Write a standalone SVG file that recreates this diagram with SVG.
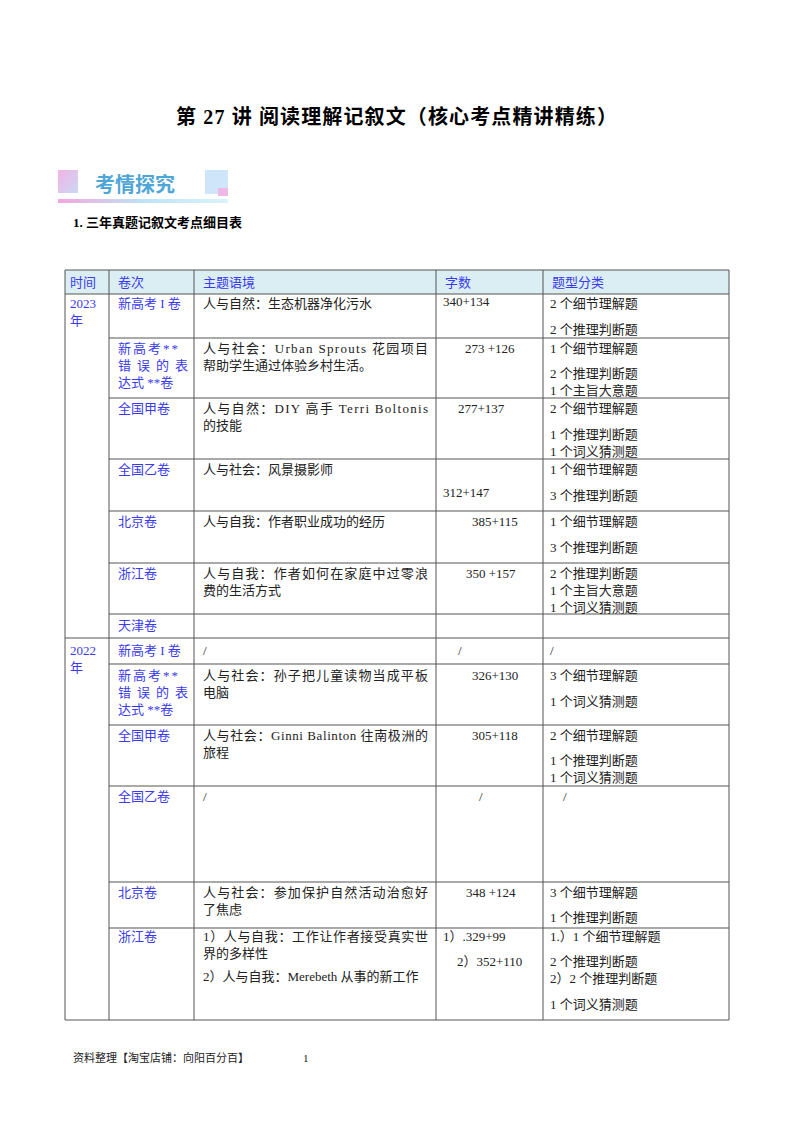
<svg xmlns="http://www.w3.org/2000/svg" width="800" height="1132" viewBox="0 0 800 1132">
<style>
text{font-family:"Liberation Serif","Noto Sans CJK SC",serif;font-size:13px;fill:#222}
.b{fill:#3a3af0}
.g line{stroke:#555;stroke-width:1}
.t{font-weight:bold;font-size:20px;fill:#000}
</style>
<defs>
<linearGradient id="ul" x1="0" x2="1"><stop offset="0" stop-color="#f3a6dc"/><stop offset="0.5" stop-color="#bfe3f7"/><stop offset="1" stop-color="#d9f3fb"/></linearGradient>
<linearGradient id="sq1" x1="0" y1="0" x2="1" y2="1"><stop offset="0" stop-color="#f3b4e3"/><stop offset="1" stop-color="#c9d8f5"/></linearGradient>
</defs>
<rect width="800" height="1132" fill="#fff"/>
<text x="176" y="124" textLength="441" class="t">第 27 讲 阅读理解记叙文（核心考点精讲精练）</text>
<g id="banner">
<rect x="58" y="170" width="20" height="23" fill="url(#sq1)"/>
<text x="95" y="192" style="font-family:'Noto Sans CJK SC',sans-serif;font-weight:bold;font-size:20px;fill:#4fa6d6">考情探究</text>
<rect x="205" y="170" width="23" height="24" fill="#cfe6fa"/>
<rect x="218" y="188" width="10" height="8" fill="#f0b8e6"/>
<rect x="58" y="199" width="170" height="4" fill="url(#ul)"/>
</g>
<text x="73" y="227" style="font-weight:bold;font-size:13px;fill:#000">1. 三年真题记叙文考点细目表</text>
<rect x="65" y="270" width="664" height="24" fill="#daeef3"/>
<g class="g">
<line x1="65" y1="270" x2="729" y2="270"/><line x1="65" y1="294" x2="729" y2="294"/>
<line x1="109" y1="338" x2="729" y2="338"/><line x1="109" y1="398" x2="729" y2="398"/>
<line x1="109" y1="459" x2="729" y2="459"/><line x1="109" y1="511" x2="729" y2="511"/>
<line x1="109" y1="563" x2="729" y2="563"/><line x1="109" y1="614" x2="729" y2="614"/>
<line x1="65" y1="638" x2="729" y2="638"/><line x1="109" y1="664" x2="729" y2="664"/>
<line x1="109" y1="725" x2="729" y2="725"/><line x1="109" y1="786" x2="729" y2="786"/>
<line x1="109" y1="882" x2="729" y2="882"/><line x1="109" y1="928" x2="729" y2="928"/>
<line x1="65" y1="1020" x2="729" y2="1020"/>
<line x1="65" y1="270" x2="65" y2="1020"/><line x1="109" y1="270" x2="109" y2="1020"/>
<line x1="194" y1="270" x2="194" y2="1020"/><line x1="436" y1="270" x2="436" y2="1020"/>
<line x1="543" y1="270" x2="543" y2="1020"/><line x1="729" y1="270" x2="729" y2="1020"/>
</g>
<g id="header" class="b">
<text x="70" y="287" class="b">时间</text><text x="118" y="287" class="b">卷次</text>
<text x="203" y="287" class="b">主题语境</text><text x="445" y="287" class="b">字数</text>
<text x="552" y="287" class="b">题型分类</text>
</g>
<g id="col1">
<text x="70" y="308" class="b">2023</text><text x="70" y="325" class="b">年</text>
<text x="70" y="655" class="b">2022</text><text x="70" y="672" class="b">年</text>
</g>
<g id="col2">
<text x="118" y="308" class="b">新高考 I 卷</text>
<text x="118" y="353" class="b" textLength="60">新高考**</text>
<text x="118" y="370" class="b" textLength="70">错误的表</text>
<text x="118" y="387" class="b">达式 **卷</text>
<text x="118" y="413" class="b">全国甲卷</text>
<text x="118" y="474" class="b">全国乙卷</text>
<text x="118" y="526" class="b">北京卷</text>
<text x="118" y="578" class="b">浙江卷</text>
<text x="118" y="630" class="b">天津卷</text>
<text x="118" y="655" class="b">新高考 I 卷</text>
<text x="118" y="680" class="b" textLength="60">新高考**</text>
<text x="118" y="697" class="b" textLength="70">错误的表</text>
<text x="118" y="714" class="b">达式 **卷</text>
<text x="118" y="740" class="b">全国甲卷</text>
<text x="118" y="801" class="b">全国乙卷</text>
<text x="118" y="897" class="b">北京卷</text>
<text x="118" y="941" class="b">浙江卷</text>
</g>
<g id="col3">
<text x="203" y="308">人与自然：生态机器净化污水</text>
<text x="203" y="353" textLength="225">人与社会：Urban Sprouts 花园项目</text>
<text x="203" y="370">帮助学生通过体验乡村生活。</text>
<text x="203" y="413" textLength="225">人与自然：DIY 高手 Terri Boltonis</text>
<text x="203" y="430">的技能</text>
<text x="203" y="474">人与社会：风景摄影师</text>
<text x="203" y="526">人与自我：作者职业成功的经历</text>
<text x="203" y="578" textLength="225">人与自我：作者如何在家庭中过零浪</text>
<text x="203" y="595">费的生活方式</text>
<text x="203" y="655">/</text>
<text x="203" y="680" textLength="225">人与社会：孙子把儿童读物当成平板</text>
<text x="203" y="697">电脑</text>
<text x="203" y="740" textLength="225">人与社会：Ginni Balinton 往南极洲的</text>
<text x="203" y="757">旅程</text>
<text x="203" y="801">/</text>
<text x="203" y="897" textLength="225">人与社会：参加保护自然活动治愈好</text>
<text x="203" y="914">了焦虑</text>
<text x="203" y="941" textLength="225">1）人与自我：工作让作者接受真实世</text>
<text x="203" y="958">界的多样性</text>
<text x="203" y="981">2）人与自我：Merebeth 从事的新工作</text>
</g>
<g id="col4">
<text x="443" y="306">340+134</text>
<text x="465" y="353">273 +126</text>
<text x="458" y="413">277+137</text>
<text x="443" y="497">312+147</text>
<text x="472" y="526">385+115</text>
<text x="466" y="578">350 +157</text>
<text x="458" y="655">/</text>
<text x="472" y="680">326+130</text>
<text x="472" y="740">305+118</text>
<text x="479" y="801">/</text>
<text x="466" y="897">348 +124</text>
<text x="443" y="941">1）.329+99</text>
<text x="457" y="966">2）352+110</text>
</g>
<g id="col5">
<text x="550" y="308">2 个细节理解题</text><text x="550" y="334">2 个推理判断题</text>
<text x="550" y="353">1 个细节理解题</text><text x="550" y="378">2 个推理判断题</text><text x="550" y="395">1 个主旨大意题</text>
<text x="550" y="413">2 个细节理解题</text><text x="550" y="439">1 个推理判断题</text><text x="550" y="456">1 个词义猜测题</text>
<text x="550" y="474">1 个细节理解题</text><text x="550" y="500">3 个推理判断题</text>
<text x="550" y="526">1 个细节理解题</text><text x="550" y="552">3 个推理判断题</text>
<text x="550" y="578">2 个推理判断题</text><text x="550" y="595">1 个主旨大意题</text><text x="550" y="612">1 个词义猜测题</text>
<text x="550" y="655">/</text>
<text x="550" y="680">3 个细节理解题</text><text x="550" y="706">1 个词义猜测题</text>
<text x="550" y="740">2 个细节理解题</text><text x="550" y="765">1 个推理判断题</text><text x="550" y="782">1 个词义猜测题</text>
<text x="563" y="801">/</text>
<text x="550" y="897">3 个细节理解题</text><text x="550" y="922">1 个推理判断题</text>
<text x="550" y="941">1.）1 个细节理解题</text><text x="550" y="966">2 个推理判断题</text>
<text x="550" y="983">2）2 个推理判断题</text><text x="550" y="1009">1 个词义猜测题</text>
</g>
<text x="73" y="1062" style="font-size:11px">资料整理【淘宝店铺：向阳百分百】</text>
<text x="303" y="1062" style="font-size:11px">1</text>
</svg>
